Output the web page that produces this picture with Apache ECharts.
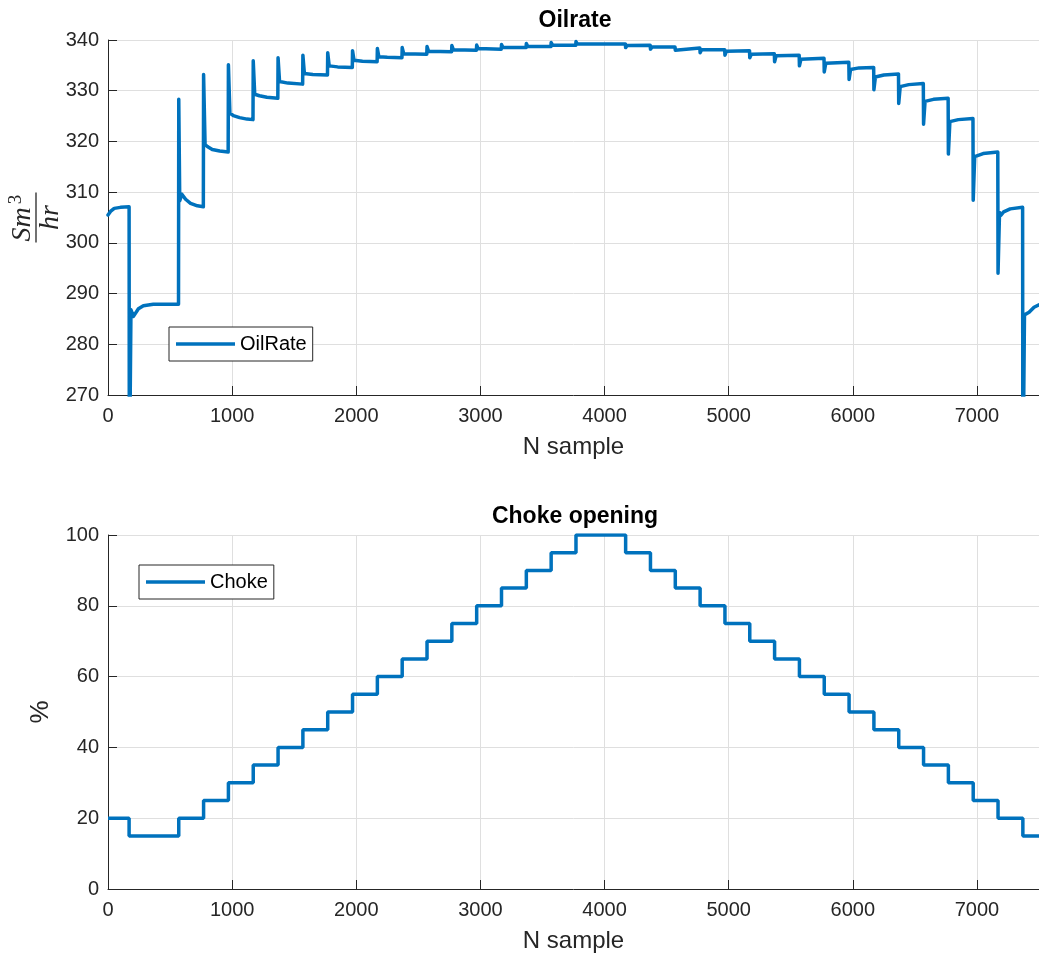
<!DOCTYPE html>
<html>
<head>
<meta charset="utf-8">
<title>Oilrate and choke opening</title>
<script src="https://cdn.jsdelivr.net/npm/echarts@6/dist/echarts.min.js"></script>
<style>
  html, body { margin: 0; padding: 0; background: #fff; }
  #main { width: 1039px; height: 956px; }
</style>
</head>
<body>
<div id="main"></div>
<script>
// choke opening (%) steps: value holds from each sample until the next one
var chokeSample = [0, 170, 570, 770, 970, 1170, 1370, 1570, 1770, 1970, 2170, 2370, 2570, 2770, 2970, 3170, 3370, 3570, 3770,
  4170, 4370, 4570, 4770, 4970, 5170, 5370, 5570, 5770, 5970, 6170, 6370, 6570, 6770, 6970, 7170, 7370, 7500];
var chokeValue = [20, 15, 20, 25, 30, 35, 40, 45, 50, 55, 60, 65, 70, 75, 80, 85, 90, 95, 100,
  95, 90, 85, 80, 75, 70, 65, 60, 55, 50, 45, 40, 35, 30, 25, 20, 15, 15];

// oil rate (Sm3/hr), sample index and value
var oilSample = [
  0, 20, 50, 100, 170,
  172, 185, 205, 245, 285, 365, 568,
  570, 578, 595, 625, 665, 720, 768,
  770, 782, 800, 840, 900, 968,
  970, 982, 1010, 1060, 1120, 1168,
  1170, 1182, 1220, 1280, 1368,
  1370, 1382, 1450, 1568,
  1570, 1582, 1650, 1768,
  1770, 1782, 1850, 1968,
  1970, 1982, 2050, 2168,
  2170, 2182, 2250, 2368,
  2370, 2382, 2568,
  2570, 2582, 2768,
  2770, 2782, 2968,
  2970, 2982, 3168,
  3170, 3182, 3368,
  3370, 3382, 3568,
  3570, 3582, 3768,
  3770, 3782, 4168,
  4170, 4182, 4368,
  4370, 4382, 4568,
  4570, 4582, 4768,
  4770, 4782, 4968,
  4970, 4982, 5168,
  5170, 5182, 5368,
  5370, 5382, 5568,
  5570, 5582, 5768,
  5770, 5782, 5968,
  5970, 5982, 6050, 6168,
  6170, 6182, 6250, 6368,
  6370, 6382, 6450, 6568,
  6570, 6582, 6650, 6768,
  6770, 6782, 6850, 6968,
  6970, 6982, 6992, 7050, 7168,
  7170, 7182, 7192, 7215, 7268, 7368,
  7370, 7383, 7395, 7420, 7460, 7500
];
var oilRate = [
  305.5, 306.2, 306.8, 307.0, 307.1,
  250, 286.8, 285.5, 287.0, 287.6, 287.9, 287.9,
  328.3, 308.3, 309.6, 308.6, 307.8, 307.3, 307.1,
  333.2, 319.4, 319.0, 318.4, 318.1, 317.9,
  335.1, 325.6, 325.1, 324.7, 324.4, 324.3,
  335.9, 329.3, 329.0, 328.7, 328.5,
  336.5, 331.8, 331.5, 331.3,
  337.0, 333.4, 333.2, 333.1,
  337.5, 334.9, 334.7, 334.6,
  337.9, 336.0, 335.8, 335.7,
  338.3, 336.7, 336.6, 336.5,
  338.5, 337.3, 337.2,
  338.7, 337.8, 337.7,
  338.9, 338.1, 338.0,
  339.0, 338.3, 338.2,
  339.1, 338.5, 338.5,
  339.3, 338.7, 338.7,
  339.5, 339.0, 338.95,
  339.7, 339.2, 339.2,
  338.5, 338.9, 338.95,
  338.2, 338.6, 338.6,
  338.0, 338.35, 338.4,
  337.5, 338.1, 338.1,
  337.0, 337.8, 337.9,
  336.5, 337.2, 337.3,
  335.7, 336.9, 337.0,
  334.9, 336.2, 336.4,
  333.7, 335.4, 335.6,
  332.2, 334.2, 334.5, 334.6,
  330.2, 332.7, 333.1, 333.3,
  327.5, 330.8, 331.2, 331.4,
  323.4, 327.9, 328.3, 328.5,
  317.5, 323.9, 324.3, 324.5,
  308.4, 317.0, 316.8, 317.6, 317.9,
  294.0, 306.0, 305.4, 306.1, 306.7, 307.0,
  250, 285.8, 285.6, 286.3, 287.3, 287.8
];

var oilData = oilSample.map(function (s, i) { return [s, oilRate[i]]; });
var chokeData = chokeSample.map(function (s, i) { return [s, chokeValue[i]]; });

var FONT = '"Liberation Sans", Arial, sans-serif';
var AXIS_COLOR = '#262626';
var GRID_COLOR = '#dfdfdf';
var LINE_COLOR = '#0072BD';

function xAxisFor(gridIndex) {
  return {
    type: 'value',
    gridIndex: gridIndex,
    min: 0,
    max: 7500,
    interval: 1000,
    name: 'N sample',
    nameLocation: 'middle',
    nameGap: 40,
    nameTextStyle: { fontFamily: FONT, fontSize: 24, color: AXIS_COLOR },
    axisLine: { show: true, lineStyle: { color: AXIS_COLOR, width: 1 } },
    axisTick: { show: true, inside: true, length: 9, lineStyle: { color: AXIS_COLOR } },
    axisLabel: {
      fontFamily: FONT, fontSize: 20, color: AXIS_COLOR, margin: 11, showMaxLabel: false,
      formatter: function (v) { return String(v); }
    },
    splitLine: { show: true, lineStyle: { color: GRID_COLOR, width: 1 } }
  };
}

function yAxisFor(gridIndex, min, max, interval) {
  return {
    type: 'value',
    gridIndex: gridIndex,
    min: min,
    max: max,
    interval: interval,
    axisLine: { show: true, lineStyle: { color: AXIS_COLOR, width: 1 } },
    axisTick: { show: true, inside: true, length: 9, lineStyle: { color: AXIS_COLOR } },
    axisLabel: { fontFamily: FONT, fontSize: 20, color: AXIS_COLOR, margin: 9 },
    splitLine: { show: true, lineStyle: { color: GRID_COLOR, width: 1 } }
  };
}

var chart = echarts.init(document.getElementById('main'), null, { renderer: 'canvas' });

var yBottom = yAxisFor(1, 0, 100, 20);
yBottom.name = '%';
yBottom.nameLocation = 'middle';
yBottom.nameRotate = 90;
yBottom.nameGap = 54;
yBottom.nameTextStyle = { fontFamily: FONT, fontSize: 26, color: AXIS_COLOR };

var legendBase = {
  orient: 'horizontal',
  icon: 'rect',
  itemWidth: 59,
  itemHeight: 3.5,
  itemGap: 5,
  padding: [7, 6, 7, 7],
  borderColor: AXIS_COLOR,
  borderWidth: 1,
  backgroundColor: '#fff',
  textStyle: { fontFamily: FONT, fontSize: 20, color: '#000' }
};

var option = {
  animation: false,
  backgroundColor: '#fff',
  title: [
    { text: 'Oilrate', left: 575, top: 9, textAlign: 'center', padding: 0,
      textStyle: { fontFamily: FONT, fontSize: 23, fontWeight: 'bold', color: '#000' } },
    { text: 'Choke opening', left: 575, top: 505, textAlign: 'center', padding: 0,
      textStyle: { fontFamily: FONT, fontSize: 23, fontWeight: 'bold', color: '#000' } }
  ],
  legend: [
    Object.assign({}, legendBase, { data: ['OilRate'], left: 169, top: 327 }),
    Object.assign({}, legendBase, { data: ['Choke'], left: 139, top: 565 })
  ],
  grid: [
    { left: 108, top: 40, width: 931, height: 355, containLabel: false },
    { left: 108, top: 535, width: 931, height: 354, containLabel: false }
  ],
  xAxis: [xAxisFor(0), xAxisFor(1)],
  yAxis: [yAxisFor(0, 270, 340, 10), yBottom],
  graphic: [
    {
      type: 'group',
      x: 36,
      y: 217.5,
      rotation: Math.PI / 2,
      children: [
        { type: 'text', x: -7, y: -13,
          style: { text: 'Sm', fontFamily: '"Liberation Serif", serif', fontStyle: 'italic', fontSize: 28,
            fill: AXIS_COLOR, align: 'center', verticalAlign: 'middle' } },
        { type: 'text', x: 18, y: -20,
          style: { text: '3', fontFamily: '"Liberation Serif", serif', fontSize: 19,
            fill: AXIS_COLOR, align: 'center', verticalAlign: 'middle' } },
        { type: 'line', shape: { x1: -25, y1: 0, x2: 25, y2: 0 },
          style: { stroke: AXIS_COLOR, lineWidth: 1.3 } },
        { type: 'text', x: 0, y: 15,
          style: { text: 'hr', fontFamily: '"Liberation Serif", serif', fontStyle: 'italic', fontSize: 28,
            fill: AXIS_COLOR, align: 'center', verticalAlign: 'middle' } }
      ]
    }
  ],
  series: [
    {
      name: 'OilRate',
      type: 'line',
      xAxisIndex: 0,
      yAxisIndex: 0,
      data: oilData,
      showSymbol: false,
      symbol: 'none',
      clip: true,
      itemStyle: { color: LINE_COLOR },
      lineStyle: { color: LINE_COLOR, width: 3.5, join: 'round', cap: 'round' }
    },
    {
      name: 'Choke',
      type: 'line',
      xAxisIndex: 1,
      yAxisIndex: 1,
      step: 'end',
      data: chokeData,
      showSymbol: false,
      symbol: 'none',
      clip: true,
      itemStyle: { color: LINE_COLOR },
      lineStyle: { color: LINE_COLOR, width: 3.5 }
    }
  ]
};

chart.setOption(option);
</script>
</body>
</html>
